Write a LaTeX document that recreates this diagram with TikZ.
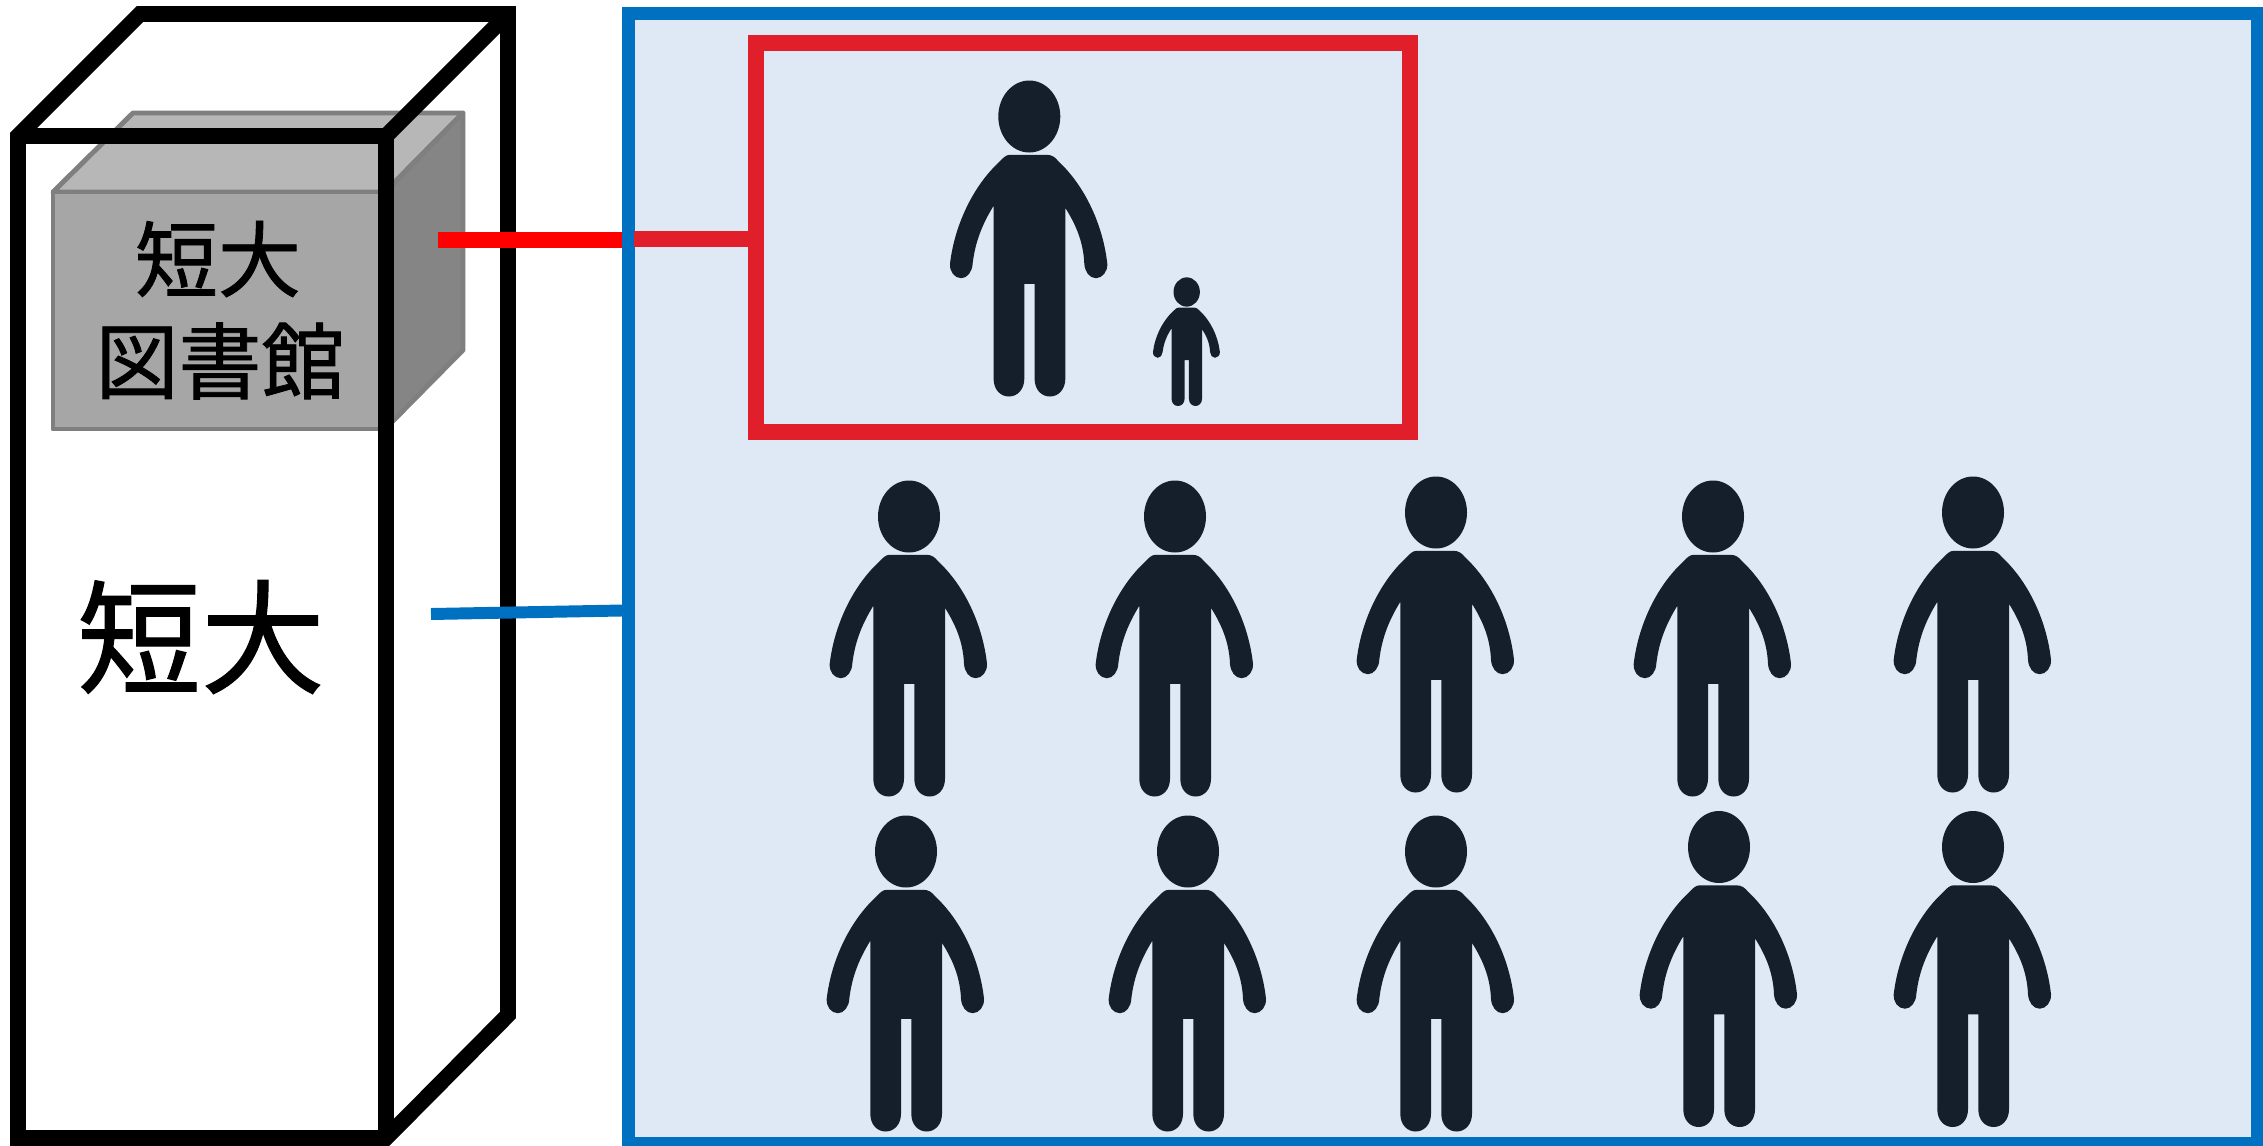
\documentclass[tikz,border=0pt]{standalone}
\usepackage{fontspec}
\setmainfont[FakeBold=1.0]{Noto Sans CJK JP}
\tikzset{
  person/.pic={
    \fill[figure] (0,0) ellipse [x radius=31,y radius=36];
    \fill[figure] (-19.3,38.3) -- (17.3,38.3)
      .. controls (23,38.3) and (26,41) .. (29,44.7)
      .. controls (57,70.7) and (74,110.7) .. (78,147.3)
      .. controls (78.5,155) and (73,161.7) .. (66.7,161.7)
      .. controls (60,161.7) and (55.5,155) .. (55,147.3)
      .. controls (54,124) and (45.7,107) .. (36,91.3)
      -- (36,262.3)
      .. controls (36,273) and (29,280) .. (20.7,280)
      .. controls (12,280) and (5.3,273) .. (5.3,262.3)
      -- (5.3,167.3) -- (-5,167.3) -- (-5,262.3)
      .. controls (-5,273) and (-12,280) .. (-20.3,280)
      .. controls (-29,280) and (-35.7,273) .. (-35.7,262.3)
      -- (-35.7,89.3)
      .. controls (-46,106) and (-54,124) .. (-56.7,147.3)
      .. controls (-57,155) and (-62,161.7) .. (-68,161.7)
      .. controls (-75,161.7) and (-79.8,155) .. (-79.3,147.3)
      .. controls (-75,110) and (-57,70) .. (-29.3,44.7)
      .. controls (-26,41) and (-23,38.3) .. (-19.3,38.3) -- cycle;
  },
  figure/.style={fill=figcol},
  cubeedge/.style={draw=cubeline,line width=1.4pt,line join=round},
  frameline/.style={draw=black,line width=4.5pt,line join=miter},
  bigtext/.style={inner sep=0,font=\fontsize{35.2}{36}\selectfont},
  boxtext/.style={inner sep=0,font=\fontsize{23.6}{25}\selectfont},
}
\definecolor{figcol}{HTML}{141F2B}
\definecolor{redbox}{HTML}{E11F2B}
\definecolor{panelfill}{HTML}{DEE9F5}
\definecolor{panelblue}{HTML}{0070C0}
\definecolor{cubefront}{HTML}{A6A6A6}
\definecolor{cubetop}{HTML}{B7B7B7}
\definecolor{cubeside}{HTML}{858585}
\definecolor{cubeline}{HTML}{7F7F7F}
\begin{document}
\begin{tikzpicture}[x=0.01cm,y=-0.01cm]
\useasboundingbox (0,0) rectangle (2263,1145);
\clip (0,0) rectangle (2263,1145);
\fill[white] (0,0) rectangle (2263,1145);

% gray cube
\draw[cubeedge,fill=cubetop] (53,192) -- (133,113) -- (463,113) -- (385,192) -- cycle;
\draw[cubeedge,fill=cubeside] (385,192) -- (463,113) -- (463,350) -- (385,429) -- cycle;
\draw[cubeedge,fill=cubefront] (53,192) rectangle (385,429);

\coordinate (redstart) at (438,240);
\coordinate (blueStart) at (431,614);

% black frame
\draw[frameline] (18,136) -- (140,14) -- (508,14) -- (508,1015) -- (386,1138) -- (18,1138) -- cycle;
\draw[frameline] (18,136) -- (386,136) -- (386,1138);
\draw[frameline] (386,136) -- (508,14);

\node[bigtext] (lblbig) at (201,637) {短大};
\node[boxtext] (lbla) at (218,259) {短大};
\node[boxtext] (lblb) at (220,361) {図書館};

% panel
\node[draw=panelblue,fill=panelfill,line width=3.7pt,inner sep=0,
  minimum width=16.28cm,minimum height=11.295cm] (panel) at (1443,578.25) {};
\node[draw=redbox,line width=4.55pt,inner sep=0,
  minimum width=6.54cm,minimum height=3.89cm] (redframe) at (1083,237.5) {};

% connectors
\coordinate (redend) at (panel.west |- redstart);
\coordinate (redin) at (634,239);
\coordinate (redout) at (redframe.west |- redin);
\coordinate (blueEnd) at (panel.west |- 0,610.5);
\draw[red,line width=4.55pt] (redstart) -- (redend);
\draw[panelblue,line width=3.4pt] (blueStart) -- (blueEnd);
\draw[redbox,line width=4.55pt] (redin) -- (redout);

% people
\pic at (1029.3,116.5) {person};
\pic[xscale=.425,yscale=.407] at (1186.7,292) {person};
\pic at (909,516.5) {person};
\pic at (1175,516.5) {person};
\pic at (1436,512.5) {person};
\pic at (1713,516.5) {person};
\pic at (1973,512.5) {person};
\pic at (906,851.5) {person};
\pic at (1188,851.5) {person};
\pic at (1436,851.5) {person};
\pic at (1719,847) {person};
\pic at (1973,847) {person};
\end{tikzpicture}
\end{document}
